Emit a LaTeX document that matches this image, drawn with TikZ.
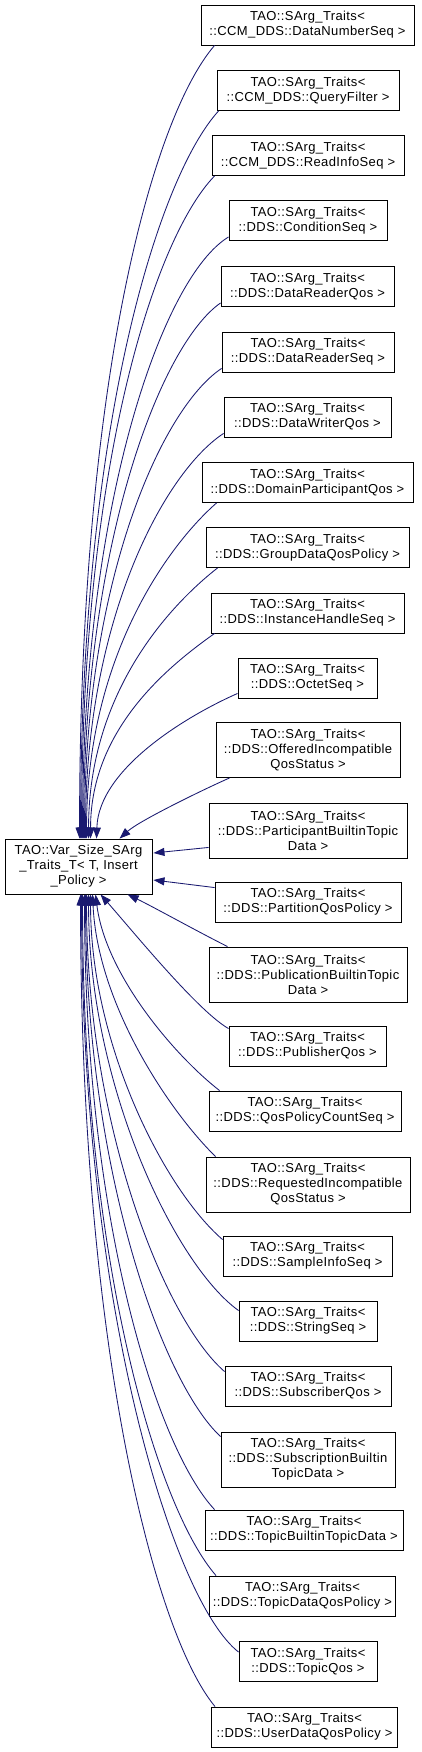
\documentclass[tikz,border=0pt]{standalone}
\usepackage{fontspec}
\setmainfont{Liberation Sans}
\newfontfamily\boxfont[LetterSpace=3]{Liberation Sans}
\usetikzlibrary{arrows.meta,calc}
\definecolor{edgeblue}{HTML}{191970}
\begin{document}
\begin{tikzpicture}[x=1pt,y=-1pt,
  box/.style={draw=black,line width=0.9pt,fill=white,inner sep=0pt,align=center,
    font=\boxfont\fontsize{13}{15}\selectfont,minimum height=40pt},
  tall/.style={minimum height=55pt},
  edge/.style={draw=edgeblue,line width=0.85pt,-{Triangle[length=11pt,width=8pt]}}]
\useasboundingbox (0,0) rectangle (421,1752);
\fill[white] (0,0) rectangle (421,1752);
% main node
\node[box,tall,minimum width=147pt] (main) at (78.5,866.5) {TAO::Var\_Size\_SArg\\\_Traits\_T< T, Insert\\\_Policy >};
% children
\node[box,minimum width=213pt] (n1) at (307.5,25) {TAO::SArg\_Traits<\\::CCM\_DDS::DataNumberSeq >};
\node[box,minimum width=182pt] (n2) at (308,90.5) {TAO::SArg\_Traits<\\::CCM\_DDS::QueryFilter >};
\node[box,minimum width=192pt] (n3) at (308,155.5) {TAO::SArg\_Traits<\\::CCM\_DDS::ReadInfoSeq >};
\node[box,minimum width=158pt] (n4) at (308,220.5) {TAO::SArg\_Traits<\\::DDS::ConditionSeq >};
\node[box,minimum width=173pt] (n5) at (307.5,286.5) {TAO::SArg\_Traits<\\::DDS::DataReaderQos >};
\node[box,minimum width=172pt] (n6) at (308,352) {TAO::SArg\_Traits<\\::DDS::DataReaderSeq >};
\node[box,minimum width=167pt] (n7) at (307.5,417) {TAO::SArg\_Traits<\\::DDS::DataWriterQos >};
\node[box,minimum width=211pt] (n8) at (307.5,482.5) {TAO::SArg\_Traits<\\::DDS::DomainParticipantQos >};
\node[box,minimum width=203pt] (n9) at (307.5,547.5) {TAO::SArg\_Traits<\\::DDS::GroupDataQosPolicy >};
\node[box,minimum width=193pt] (n10) at (307.5,613) {TAO::SArg\_Traits<\\::DDS::InstanceHandleSeq >};
\node[box,minimum width=139pt] (n11) at (307.5,678) {TAO::SArg\_Traits<\\::DDS::OctetSeq >};
\node[box,tall,minimum width=184pt] (n12) at (308,750) {TAO::SArg\_Traits<\\::DDS::OfferedIncompatible\\QosStatus >};
\node[box,tall,minimum width=198pt] (n13) at (308,830.5) {TAO::SArg\_Traits<\\::DDS::ParticipantBuiltinTopic\\Data >};
\node[box,minimum width=186pt] (n14) at (308,902) {TAO::SArg\_Traits<\\::DDS::PartitionQosPolicy >};
\node[box,tall,minimum width=198pt] (n15) at (308,974.5) {TAO::SArg\_Traits<\\::DDS::PublicationBuiltinTopic\\Data >};
\node[box,minimum width=157pt] (n16) at (307.5,1046) {TAO::SArg\_Traits<\\::DDS::PublisherQos >};
\node[box,minimum width=192pt] (n17) at (305,1111) {TAO::SArg\_Traits<\\::DDS::QosPolicyCountSeq >};
\node[box,tall,minimum width=204pt] (n18) at (308,1184.5) {TAO::SArg\_Traits<\\::DDS::RequestedIncompatible\\QosStatus >};
\node[box,minimum width=169pt] (n19) at (307.5,1256) {TAO::SArg\_Traits<\\::DDS::SampleInfoSeq >};
\node[box,minimum width=138pt] (n20) at (308,1321) {TAO::SArg\_Traits<\\::DDS::StringSeq >};
\node[box,minimum width=166pt] (n21) at (308,1386) {TAO::SArg\_Traits<\\::DDS::SubscriberQos >};
\node[box,tall,minimum width=174pt] (n22) at (308,1459.5) {TAO::SArg\_Traits<\\::DDS::SubscriptionBuiltin\\TopicData >};
\node[box,minimum width=198pt] (n23) at (304,1530) {TAO::SArg\_Traits<\\::DDS::TopicBuiltinTopicData >};
\node[box,minimum width=186pt] (n24) at (302.5,1596) {TAO::SArg\_Traits<\\::DDS::TopicDataQosPolicy >};
\node[box,minimum width=138pt] (n25) at (308,1661.5) {TAO::SArg\_Traits<\\::DDS::TopicQos >};
\node[box,minimum width=186pt] (n26) at (304.5,1727) {TAO::SArg\_Traits<\\::DDS::UserDataQosPolicy >};
% edges to top of main
\draw[edge] ($(n1.south west)+(14,0)$) .. controls +(-62,72) and +(0,-460) .. ($(main.north west)+(75,0)$);
\draw[edge] ($(n2.south west)+(2,0)$) .. controls +(-60,66) and +(0,-415) .. ($(main.north west)+(76,0)$);
\draw[edge] ($(n3.south west)+(3,0)$) .. controls +(-60,62) and +(0,-375) .. ($(main.north west)+(77,0)$);
\draw[edge] ($(n4.south west)+(0,-4)$) .. controls +(-66,40) and +(0,-335) .. ($(main.north west)+(78,0)$);
\draw[edge] ($(n5.south west)+(0,-4)$) .. controls +(-60,42) and +(0,-295) .. ($(main.north west)+(79,0)$);
\draw[edge] ($(n6.south west)+(0,-4)$) .. controls +(-60,40) and +(0,-258) .. ($(main.north west)+(80,0)$);
\draw[edge] ($(n7.south west)+(0,-4)$) .. controls +(-58,38) and +(0,-222) .. ($(main.north west)+(81,0)$);
\draw[edge] ($(n8.south west)+(15,0)$) .. controls +(-48,42) and +(0,-182) .. ($(main.north west)+(82,0)$);
\draw[edge] ($(n9.south west)+(12,0)$) .. controls +(-46,36) and +(0,-148) .. ($(main.north west)+(84,0)$);
\draw[edge] ($(n10.south west)+(4,0)$) .. controls +(-42,30) and +(0,-112) .. ($(main.north west)+(86,0)$);
\draw[edge] ($(n11.south west)+(0,-5)$) .. controls +(-50,22) and +(2,-70) .. ($(main.north west)+(92,0)$);
\draw[edge] ($(n12.south west)+(14,0)$) .. controls +(-25,11) and +(20,-18) .. ($(main.north west)+(115,0)$);
% edges to right side of main
\draw[edge] ($(n13.south west)+(0,-11)$) -- ($(main.east)+(1,-13.5)$);
\draw[edge] ($(n14.north west)+(0,6)$) -- ($(main.east)+(1,13.5)$);
% edges to bottom of main
\draw[edge] ($(n15.north west)+(19,0)$) .. controls +(-30,-15) and +(25,12) .. ($(main.south west)+(123,0)$);
\draw[edge] ($(n16.north west)+(0,3)$) .. controls +(-30,-17) and +(35,40) .. ($(main.south west)+(96,0)$);
\draw[edge] ($(n17.north west)+(11,0)$) .. controls +(-45,-35) and +(10,80) .. ($(main.south west)+(91,0)$);
\draw[edge] ($(n18.north west)+(10,0)$) .. controls +(-46,-45) and +(5,110) .. ($(main.south west)+(88,0)$);
\draw[edge] ($(n19.north west)+(0,4)$) .. controls +(-58,-50) and +(0,150) .. ($(main.south west)+(86,0)$);
\draw[edge] ($(n20.north west)+(0,10)$) .. controls +(-64,-46) and +(0,190) .. ($(main.south west)+(84,0)$);
\draw[edge] ($(n21.north west)+(0,6)$) .. controls +(-60,-52) and +(0,230) .. ($(main.south west)+(82,0)$);
\draw[edge] ($(n22.north west)+(0,5)$) .. controls +(-60,-56) and +(0,270) .. ($(main.south west)+(81,0)$);
\draw[edge] ($(n23.north west)+(10,0)$) .. controls +(-58,-62) and +(0,325) .. ($(main.south west)+(80,0)$);
\draw[edge] ($(n24.north west)+(7,0)$) .. controls +(-58,-66) and +(0,370) .. ($(main.south west)+(78,0)$);
\draw[edge] ($(n25.north west)+(0,11)$) .. controls +(-66,-52) and +(0,410) .. ($(main.south west)+(77,0)$);
\draw[edge] ($(n26.north west)+(4,0)$) .. controls +(-60,-72) and +(0,455) .. ($(main.south west)+(76,0)$);
\end{tikzpicture}
\end{document}
